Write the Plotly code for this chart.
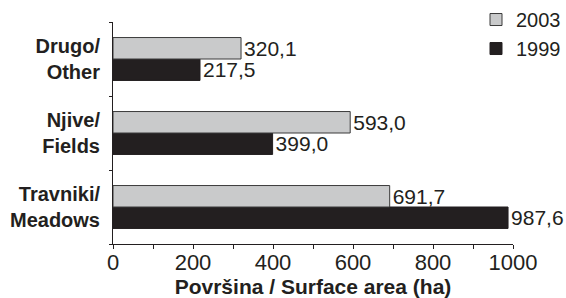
import plotly.graph_objects as go

categories = ["Travniki/<br>Meadows", "Njive/<br>Fields", "Drugo/<br>Other"]
category_labels = ["<b>Travniki/</b><br><b>Meadows</b>", "<b>Njive/</b><br><b>Fields</b>", "<b>Drugo/</b><br><b>Other</b>"]
values_1999 = [987.6, 399.0, 217.5]
values_2003 = [691.7, 593.0, 320.1]
labels_1999 = ["987,6", "399,0", "217,5"]
labels_2003 = ["691,7", "593,0", "320,1"]
x_tickvals = [0, 200, 400, 600, 800, 1000]

INK = "#231f20"
FONT = "Liberation Sans, Arial, sans-serif"

fig = go.Figure()
fig.add_trace(go.Bar(
    y=categories, x=values_1999, name="1999", orientation="h",
    marker=dict(color=INK, line=dict(color=INK, width=1)),
    text=labels_1999, textposition="outside", cliponaxis=False,
    constraintext="none", textfont=dict(family=FONT, size=21, color=INK),
    hoverinfo="skip",
))
fig.add_trace(go.Bar(
    y=categories, x=values_2003, name="2003", orientation="h",
    marker=dict(color="#c9cacb", line=dict(color="#3a3a3a", width=1)),
    text=labels_2003, textposition="outside", cliponaxis=False,
    constraintext="none", textfont=dict(family=FONT, size=21, color=INK),
    hoverinfo="skip",
))

fig.update_layout(
    width=566, height=298,
    margin=dict(l=113, r=53, t=22, b=54, autoexpand=False),
    paper_bgcolor="white", plot_bgcolor="white",
    barmode="group", bargap=0.42, bargroupgap=0,
    font=dict(family=FONT, color=INK),
    showlegend=True,
    legend=dict(
        x=(476 - 113) / 400, xanchor="left",
        y=1.099, yanchor="top",
        traceorder="reversed",
        font=dict(family=FONT, size=20, color=INK),
        bgcolor="rgba(0,0,0,0)", itemwidth=30,
        tracegroupgap=0,
    ),
    xaxis=dict(
        range=[0, 1000], tickvals=x_tickvals,
        showgrid=False, zeroline=False,
        showline=True, linecolor=INK, linewidth=1,
        ticks="outside", ticklen=4, tickcolor=INK, tickwidth=1,
        minor=dict(dtick=100, ticks="outside", ticklen=4, tickcolor=INK, tickwidth=1, showgrid=False),
        tickfont=dict(family=FONT, size=22, color=INK),
        ticklabelstandoff=-5,
        automargin=True,
        title=dict(text="<b>Površina / Surface area (ha)</b>",
                   font=dict(family=FONT, size=21, color=INK), standoff=2),
    ),
    yaxis=dict(
        showgrid=False, zeroline=False,
        showline=True, linecolor=INK, linewidth=1,
        ticks="outside", ticklen=3, tickcolor=INK, tickson="boundaries",
        tickfont=dict(family=FONT, size=20, color=INK),
        tickvals=categories, ticktext=category_labels,
        ticklabelstandoff=8, automargin=False,
    ),
)

fig.write_html("out.html", config={"displayModeBar": False},
               post_script="document.body.style.margin='0';document.body.style.overflow='hidden';")
